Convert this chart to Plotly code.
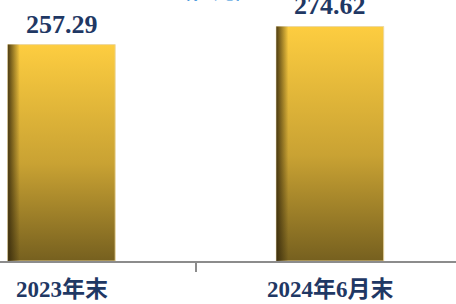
import plotly.graph_objects as go

categories = ["2023年末", "2024年6月末"]
values = [257.29, 274.62]
value_labels = ["257.29", "274.62"]
title_text = "（亿元）"

base = 50
top = 300
bar_w = 0.4
edge_w = 0.045

fig = go.Figure()
for i, v in enumerate(values):
    x0, x1 = i - bar_w / 2, i + bar_w / 2
    # main bar body with vertical gradient
    fig.add_trace(go.Scatter(
        x=[x0, x1, x1, x0, x0], y=[base, base, v, v, base],
        mode="lines", fill="toself",
        line=dict(color="rgba(235,215,160,0.9)", width=1),
        fillgradient=dict(type="vertical", start=base, stop=v,
                          colorscale=[[0, "#76601F"], [0.45, "#C9A233"], [1, "#FDCD40"]]),
        hoverinfo="skip", showlegend=False,
    ))
    # dark left edge
    fig.add_trace(go.Scatter(
        x=[x0, x0 + edge_w, x0 + edge_w, x0, x0], y=[base, base, v, v, base],
        mode="lines", fill="toself", line=dict(width=0),
        fillgradient=dict(type="horizontal", start=x0, stop=x0 + edge_w,
                          colorscale=[[0, "rgba(50,38,10,0.85)"], [1, "rgba(50,38,10,0)"]]),
        hoverinfo="skip", showlegend=False,
    ))

annotations = []
for i, (v, lab) in enumerate(zip(values, value_labels)):
    annotations.append(dict(x=i, y=v, xref="x", yref="y", text=f"<b>{lab}</b>",
                            showarrow=False, yanchor="bottom", yshift=4,
                            font=dict(family="Liberation Serif", size=26, color="#1F3864")))
for i, c in enumerate(categories):
    annotations.append(dict(x=i, y=0, xref="x", yref="paper", text=f"<b>{c}</b>",
                            showarrow=False, yanchor="top", yshift=-14,
                            font=dict(family="Liberation Serif, Noto Sans CJK SC", size=23, color="#1F3864")))
annotations.append(dict(x=0.5, y=1, xref="x", yref="paper", text=f"<b>{title_text}</b>",
                        showarrow=False, yanchor="bottom", yshift=-6, xshift=17,
                        font=dict(family="Noto Sans CJK SC", size=22, color="#1E88D8")))

x_min = -61.5 / 268.5
x_max = (456 - 61.5) / 268.5

fig.update_layout(
    width=456, height=304,
    margin=dict(l=0, r=0, t=0, b=43),
    plot_bgcolor="white", paper_bgcolor="white",
    annotations=annotations,
    xaxis=dict(range=[x_min, x_max], showgrid=False, zeroline=False,
               tickvals=[0.5], ticktext=[""], ticks="outside", ticklen=9,
               tickwidth=2, tickcolor="#8C8C8C",
               showline=True, linecolor="#8C8C8C", linewidth=2, fixedrange=True),
    yaxis=dict(range=[base, top], visible=False, fixedrange=True),
)

fig.write_html("out.html", config={"displayModeBar": False},
               post_script="document.body.style.margin='0';document.body.style.overflow='hidden';")
